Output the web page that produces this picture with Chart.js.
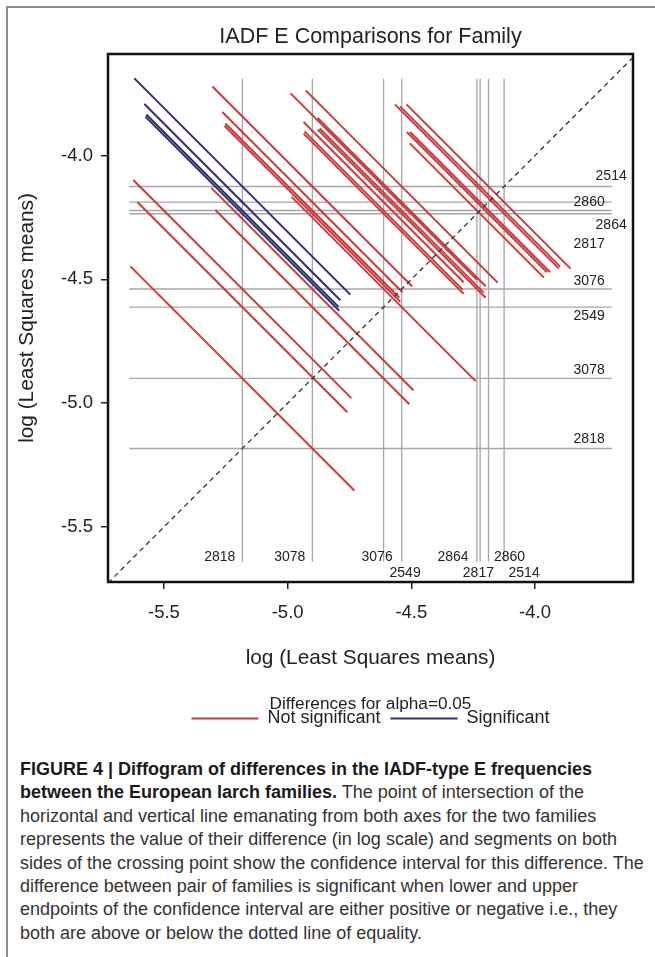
<!DOCTYPE html>
<html>
<head>
<meta charset="utf-8">
<script src="https://cdn.jsdelivr.net/npm/chart.js@4.4.1/dist/chart.umd.min.js"></script>
<style>
  html, body { margin: 0; padding: 0; background: #fff; }
  #page { position: relative; width: 655px; height: 957px; overflow: hidden; font-family: "Liberation Sans", Arial, sans-serif; }
  .edge-top { position: absolute; left: 6px; top: 6px; width: 649px; height: 1.5px; background: #8c8c8c; }
  .edge-left { position: absolute; left: 6px; top: 6px; width: 1.5px; height: 951px; background: #8c8c8c; }
  #chartBox { position: absolute; left: 0; top: 0; }
  #caption { position: absolute; left: 20px; top: 758px; font-size: 18px; line-height: 23.4px; color: #333; }
  #caption div { white-space: nowrap; }
  #caption b { color: #1a1a1a; }
</style>
</head>
<body>
<div id="page">
  <div class="edge-top"></div>
  <div class="edge-left"></div>
  <div id="chartBox"><canvas id="chart" width="655" height="745"></canvas></div>
  <div id="caption">
    <div><b>FIGURE 4 | Diffogram of differences in the IADF-type E frequencies</b></div>
    <div><b>between the European larch families.</b> The point of intersection of the</div>
    <div>horizontal and vertical line emanating from both axes for the two families</div>
    <div>represents the value of their difference (in log scale) and segments on both</div>
    <div>sides of the crossing point show the confidence interval for this difference. The</div>
    <div>difference between pair of families is significant when lower and upper</div>
    <div>endpoints of the confidence interval are either positive or negative i.e., they</div>
    <div>both are above or below the dotted line of equality.</div>
  </div>
</div>
<script>
// family LS means (log scale)
const families = ['2514', '2860', '2864', '2817', '3076', '2549', '3078', '2818'];
const lsMeans = [-4.125, -4.188, -4.222, -4.235, -4.539, -4.612, -4.900, -5.183];

// pairwise comparisons: [higher family, lower family] and CI of the difference
const pairs = [
    ['2514', '2860'], ['2514', '2864'], ['2514', '2817'], ['2514', '3076'],
    ['2514', '2549'], ['2514', '3078'], ['2514', '2818'], ['2860', '2864'],
    ['2860', '2817'], ['2860', '3076'], ['2860', '2549'], ['2860', '3078'],
    ['2860', '2818'], ['2864', '2817'], ['2864', '3076'], ['2864', '2549'],
    ['2864', '3078'], ['2864', '2818'], ['2817', '3076'], ['2817', '2549'],
    ['2817', '3078'], ['2817', '2818'], ['3076', '2549'], ['3076', '3078'],
    ['3076', '2818'], ['2549', '3078'], ['2549', '2818'], ['3078', '2818']
];
const lowerCL = [-0.600, -0.550, -0.553, -0.362, -0.265, -0.033, 0.185, -0.532,
    -0.519, -0.328, -0.223, -0.016, 0.203, -0.529, -0.346, -0.249,
    -0.025, 0.185, -0.375, -0.270, -0.046, 0.164, -0.671, -0.456,
    -0.237, -0.496, -0.278, -0.622];
const upperCL = [0.726, 0.744, 0.773, 1.190, 1.239, 1.583, 1.931, 0.600,
    0.613, 1.030, 1.071, 1.440, 1.787, 0.555, 0.980, 1.029,
    1.381, 1.737, 0.983, 1.024, 1.376, 1.732, 0.817, 1.178,
    1.525, 1.072, 1.420, 1.188];

const xTicks = [-5.5, -5.0, -4.5, -4.0];
const yTicks = [-5.5, -5.0, -4.5, -4.0];
const xRange = [-5.726, -3.604];
const yRange = [-5.722, -3.590];
const refExtent = [-5.64, -3.69];

const RED = '#cc3a3a';
const BLUE = '#2f2c7c';
const GREY = '#a6a6a6';
const FONT = '"Liberation Sans", Arial, sans-serif';

Chart.defaults.font.family = FONT;
Chart.defaults.color = '#222';

const meanOf = f => lsMeans[families.indexOf(f)];

// each comparison: slope -1 segment through (lower mean, higher mean)
const segments = pairs.map(([hi, lo], i) => {
    const s = meanOf(hi) + meanOf(lo);
    return {
        label: hi + ' - ' + lo,
        data: [
            { x: (s - upperCL[i]) / 2, y: (s + upperCL[i]) / 2 },
            { x: (s - lowerCL[i]) / 2, y: (s + lowerCL[i]) / 2 }
        ],
        borderColor: lowerCL[i] > 0 ? BLUE : RED,
        borderWidth: 2
    };
});

const refLines = [];
lsMeans.forEach(m => {
    refLines.push({ data: [{ x: refExtent[0], y: m }, { x: refExtent[1], y: m }], borderColor: GREY, borderWidth: 1.3 });
    refLines.push({ data: [{ x: m, y: refExtent[0] }, { x: m, y: refExtent[1] }], borderColor: GREY, borderWidth: 1.3 });
});

const diagonal = {
    data: [{ x: xRange[0], y: xRange[0] }, { x: yRange[1], y: yRange[1] }],
    borderColor: '#333', borderWidth: 1.3, borderDash: [5, 4]
};

// label nudges (px) for the reference line tags
const rowTag = {
    '2514': [15, -10], '2860': [-7, 0], '2864': [15, 15], '2817': [-7, 30],
    '3076': [-7, -8], '2549': [-7, 9], '3078': [-7, -8], '2818': [-7, -9]
};
const colTag = {
    '2818': [-7, -5, 'right'], '3078': [-7, -5, 'right'], '3076': [-9, -5, 'right'],
    '2549': [21.5, 11, 'center'], '2864': [-11.5, -5, 'right'], '2817': [1.5, 11, 'center'],
    '2860': [5.5, -5, 'left'], '2514': [20, 11, 'center']
};

const annotate = {
    id: 'annotate',
    afterDatasetsDraw(chart) {
        const { ctx, chartArea: a, scales: { x, y } } = chart;
        ctx.save();
        ctx.strokeStyle = '#111';
        ctx.lineWidth = 2.5;
        ctx.strokeRect(a.left, a.top, a.right - a.left, a.bottom - a.top);
        ctx.font = '14px ' + FONT;
        ctx.fillStyle = '#222';
        ctx.textBaseline = 'middle';
        families.forEach((f, i) => {
            const r = rowTag[f];
            ctx.textAlign = 'right';
            ctx.fillText(f, x.getPixelForValue(refExtent[1]) + r[0], y.getPixelForValue(lsMeans[i]) + r[1]);
            const c = colTag[f];
            ctx.textAlign = c[2];
            ctx.fillText(f, x.getPixelForValue(lsMeans[i]) + c[0], y.getPixelForValue(refExtent[0]) + c[1]);
        });
        ctx.restore();
    }
};

const allSets = [diagonal, ...segments, ...refLines].map(d => Object.assign({
    showLine: true, pointRadius: 0, fill: false, tension: 0
}, d));

new Chart(document.getElementById('chart'), {
    type: 'scatter',
    data: { datasets: allSets },
    plugins: [annotate],
    options: {
        responsive: false,
        animation: false,
        layout: { padding: { left: 0, right: 22, top: 0, bottom: 7.5 } },
        plugins: {
            tooltip: { enabled: false },
            title: {
                display: true,
                fullSize: false,
                text: 'IADF E Comparisons for Family',
                font: { size: 21.5, weight: 'normal', lineHeight: 24 / 21.5 },
                color: '#222',
                padding: { top: 25, bottom: 5 }
            },
            legend: {
                position: 'bottom',
                fullSize: false,
                title: {
                    display: true,
                    text: 'Differences for alpha=0.05',
                    font: { size: 17.2, lineHeight: 4 / 17.2 },
                    color: '#222',
                    padding: { top: 13.5, bottom: 0 }
                },
                labels: {
                    usePointStyle: true,
                    pointStyleWidth: 67,
                    padding: 10,
                    font: { size: 18 },
                    color: '#222',
                    generateLabels: () => [
                        { text: 'Not significant', strokeStyle: RED, fillStyle: RED, lineWidth: 2, pointStyle: 'line', hidden: false },
                        { text: 'Significant', strokeStyle: BLUE, fillStyle: BLUE, lineWidth: 2, pointStyle: 'line', hidden: false }
                    ]
                }
            }
        },
        scales: {
            x: {
                type: 'linear',
                min: xRange[0],
                max: xRange[1],
                afterBuildTicks: s => { s.ticks = xTicks.map(v => ({ value: v })); },
                afterFit: s => { s.height = 100; },
                ticks: { callback: v => v.toFixed(1), font: { size: 18.5 }, padding: 13, maxRotation: 0 },
                grid: { drawOnChartArea: false, drawTicks: true, tickLength: 7, color: '#222', lineWidth: 1.5 },
                border: { display: false },
                title: { display: true, text: 'log (Least Squares means)', font: { size: 20.8 }, padding: { top: 0, bottom: 11 } }
            },
            y: {
                type: 'linear',
                min: yRange[0],
                max: yRange[1],
                afterBuildTicks: s => { s.ticks = yTicks.map(v => ({ value: v })); },
                afterFit: s => { s.width = 108; },
                ticks: { callback: v => v.toFixed(1), font: { size: 18.5 }, padding: 8 },
                grid: { drawOnChartArea: false, drawTicks: true, tickLength: 7, color: '#222', lineWidth: 1.5 },
                border: { display: false },
                title: { display: true, text: 'log (Least Squares means)', font: { size: 20.8 }, padding: { top: 15, bottom: 0 } }
            }
        }
    }
});
</script>
</body>
</html>
